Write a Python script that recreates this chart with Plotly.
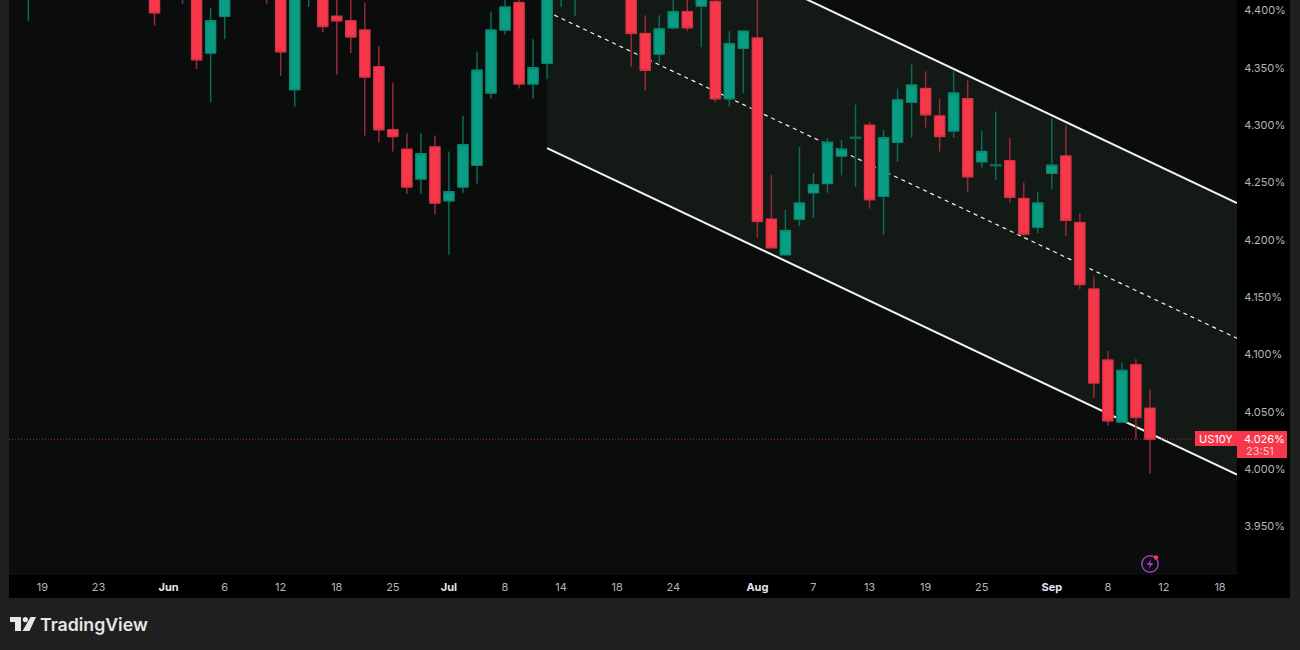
import plotly.graph_objects as go

# Bar number counted in trading days from the first candle in view
bar = [0, 9, 11, 12, 13, 14, 17, 18, 19, 20, 21, 22, 23, 24, 25, 26, 27, 28, 29, 30, 31, 32, 33, 34, 35, 36, 37, 38, 39,
       43, 44, 45, 46, 47, 48, 49, 50, 51, 52, 53, 54, 55, 56, 57, 58, 59, 60, 61, 62, 63, 64, 65, 66, 67, 68, 69, 70,
       71, 72, 73, 74, 75, 76, 77, 78, 79, 80]
opens = [4.413, 4.422, 4.418, 4.426, 4.363, 4.395, 4.430, 4.426, 4.331, 4.412, 4.422, 4.395, 4.391, 4.383, 4.351, 4.296,
         4.279, 4.253, 4.281, 4.234, 4.246, 4.265, 4.328, 4.383, 4.407, 4.336, 4.354, 4.412, 4.418,
         4.422, 4.380, 4.362, 4.385, 4.399, 4.404, 4.408, 4.323, 4.367, 4.376, 4.218, 4.187, 4.218, 4.241, 4.249, 4.273,
         4.2885, 4.300, 4.238, 4.285, 4.320, 4.332, 4.308, 4.295, 4.323, 4.268, 4.2645, 4.269,
         4.236, 4.211, 4.258, 4.273, 4.215, 4.157, 4.095, 4.041, 4.091, 4.053]
highs = [4.444, 4.430, 4.440, 4.435, 4.402, 4.428, 4.440, 4.435, 4.430, 4.440, 4.430, 4.418, 4.416, 4.407, 4.369, 4.337,
         4.293, 4.293, 4.291, 4.277, 4.308, 4.364, 4.399, 4.413, 4.412, 4.375, 4.430, 4.435, 4.440,
         4.435, 4.396, 4.396, 4.415, 4.420, 4.430, 4.412, 4.382, 4.382, 4.420, 4.257, 4.226, 4.281, 4.258, 4.289, 4.287,
         4.318, 4.303, 4.296, 4.332, 4.353, 4.347, 4.323, 4.347, 4.339, 4.295, 4.312, 4.289,
         4.250, 4.242, 4.306, 4.300, 4.223, 4.168, 4.103, 4.093, 4.096, 4.070]
lows = [4.391, 4.387, 4.406, 4.349, 4.320, 4.375, 4.406, 4.343, 4.316, 4.403, 4.381, 4.344, 4.363, 4.291, 4.285, 4.277,
        4.240, 4.240, 4.222, 4.187, 4.241, 4.249, 4.323, 4.379, 4.332, 4.323, 4.340, 4.403, 4.395,
        4.351, 4.330, 4.354, 4.384, 4.382, 4.368, 4.320, 4.316, 4.328, 4.202, 4.193, 4.186, 4.212, 4.219, 4.241, 4.256,
        4.246, 4.227, 4.204, 4.268, 4.289, 4.298, 4.277, 4.289, 4.242, 4.263, 4.252, 4.232,
        4.203, 4.206, 4.244, 4.203, 4.157, 4.062, 4.038, 4.041, 4.026, 3.996]
closes = [4.435, 4.398, 4.431, 4.357, 4.391, 4.419, 4.415, 4.364, 4.418, 4.430, 4.386, 4.391, 4.377, 4.342, 4.296, 4.290,
          4.246, 4.275, 4.232, 4.242, 4.283, 4.348, 4.383, 4.403, 4.336, 4.350, 4.422, 4.425, 4.432,
          4.380, 4.348, 4.384, 4.399, 4.385, 4.420, 4.323, 4.371, 4.382, 4.216, 4.193, 4.208, 4.232, 4.248, 4.285, 4.279,
          4.2895, 4.235, 4.289, 4.322, 4.335, 4.309, 4.290, 4.328, 4.255, 4.277, 4.2655, 4.237,
          4.205, 4.232, 4.265, 4.217, 4.161, 4.075, 4.042, 4.086, 4.045, 4.026]

x_tick_bars = [1, 5, 10, 14, 18, 22, 26, 30, 34, 38, 42, 46, 52, 56, 60, 64, 68, 73, 77, 81, 85]
x_tick_labels = ["19", "23", "Jun", "6", "12", "18", "25", "Jul", "8", "14", "18", "24", "Aug", "7", "13", "19", "25",
                 "Sep", "8", "12", "18"]
y_ticks = [3.95, 4.00, 4.05, 4.10, 4.15, 4.20, 4.25, 4.30, 4.35, 4.40]
y_tick_labels = ["3.950%", "4.000%", "4.050%", "4.100%", "4.150%", "4.200%", "4.250%", "4.300%", "4.350%", "4.400%"]

last_price = 4.026
symbol = "US10Y"
last_label = "4.026%"
countdown = "23:51"

channel_x = [37.0, 86.21]
channel_upper = [4.517, 4.232]
channel_mid = [4.399, 4.114]
channel_lower = [4.280, 3.995]

X_RANGE = [-1.38, 86.21]
Y_RANGE = [3.9075, 4.4092]
W, H = 1300, 650
RED, GREEN = "#f7374a", "#099e83"
RED_EDGE, GREEN_EDGE = "#dc3444", "#0a8a73"
RED_WICK, GREEN_WICK = "#96293a", "#0b6a58"
FONT = "Inter, Roboto, sans-serif"


def px(x):
    return x / W


def py(y):
    return 1 - y / H


def paper_rect(x0, y0, x1, y1, color, layer="below"):
    return dict(type="rect", xref="paper", yref="paper", x0=px(x0), x1=px(x1), y0=py(y0), y1=py(y1),
                fillcolor=color, line_width=0, layer=layer)


def paper_path(points, color, close=True):
    d = "M " + " L ".join(f"{px(a):.5f},{py(b):.5f}" for a, b in points) + (" Z" if close else "")
    return dict(type="path", xref="paper", yref="paper", path=d, fillcolor=color if close else None,
                line=dict(color=color, width=0 if close else 1.3), layer="above")


def paper_circle(cx, cy, r, fill=None, stroke=None, width=0):
    return dict(type="circle", xref="paper", yref="paper", x0=px(cx - r), x1=px(cx + r), y0=py(cy + r), y1=py(cy - r),
                fillcolor=fill or "rgba(0,0,0,0)", line=dict(color=stroke or "rgba(0,0,0,0)", width=width),
                layer="above")


def channel_line(ys, dash, width):
    return dict(type="line", xref="x", yref="y", x0=channel_x[0], x1=channel_x[1], y0=ys[0], y1=ys[1],
                line=dict(color="#f4f4f4", width=width, dash=dash), layer="below")


# Wicks: the full candles, in the dim wick colour
fig = go.Figure(go.Candlestick(
    x=bar, open=opens, high=highs, low=lows, close=closes, whiskerwidth=0,
    increasing=dict(fillcolor=GREEN, line=dict(color=GREEN_WICK, width=1.5)),
    decreasing=dict(fillcolor=RED, line=dict(color=RED_WICK, width=1.5)),
    hoverinfo="skip", showlegend=False))

# Bodies on top, without wicks, so their edges stay bright (dojis keep their thin dim line)
real = [i for i in range(len(bar)) if abs(opens[i] - closes[i]) > 0.002]
fig.add_trace(go.Candlestick(
    x=[bar[i] for i in real],
    open=[opens[i] for i in real],
    close=[closes[i] for i in real],
    high=[max(opens[i], closes[i]) for i in real],
    low=[min(opens[i], closes[i]) for i in real],
    whiskerwidth=0,
    increasing=dict(fillcolor=GREEN, line=dict(color=GREEN_EDGE, width=1)),
    decreasing=dict(fillcolor=RED, line=dict(color=RED_EDGE, width=1)),
    hoverinfo="skip", showlegend=False))

shapes = [
    paper_rect(1237, 0, 1290, 598, "#000000"),
    paper_rect(9, 575, 1290, 598, "#000000"),
    dict(type="path", xref="x", yref="y", layer="below", fillcolor="#131914", line_width=0,
         path=f"M {channel_x[0]},{channel_upper[0]} L {channel_x[1]},{channel_upper[1]} "
              f"L {channel_x[1]},{channel_lower[1]} L {channel_x[0]},{channel_lower[0]} Z"),
    channel_line(channel_upper, "solid", 2),
    channel_line(channel_lower, "solid", 2),
    channel_line(channel_mid, "4px,4px", 1.2),
    dict(type="line", xref="x", yref="y", x0=X_RANGE[0], x1=83.2, y0=last_price, y1=last_price,
         line=dict(color="#a82a38", width=1, dash="1px,2px"), layer="above"),
    paper_rect(1195, 431, 1237, 446, RED, "above"),
    paper_rect(1237, 431, 1287, 458, RED, "above"),
    # TradingView mark
    paper_path([(10, 617), (21, 617), (21, 631), (15, 631), (15, 622), (10, 622)], "#e6e6e6"),
    paper_circle(25.3, 619.6, 2.6, fill="#e6e6e6"),
    paper_path([(30.5, 617), (36, 617), (29.5, 631), (22.5, 631)], "#e6e6e6"),
    # Lightning badge
    paper_circle(1150, 564, 8.2, stroke="#a23bc4", width=1.5),
    paper_path([(1152, 558.5), (1146.5, 565), (1150, 565), (1148, 569.5), (1153.5, 563), (1150, 563)], "#a23bc4"),
    paper_circle(1156, 557.5, 2.2, fill="#f7374a"),
]


def label(x, y, text, color, size, anchor="center", weight=None):
    return dict(xref="paper", yref="paper", x=px(x), y=py(y), text=text, showarrow=False, xanchor=anchor,
                yanchor="middle", font=dict(family=FONT, size=size, color=color, weight=weight))


annotations = [
    label(1216, 438.8, symbol, "#ffffff", 11),
    label(1264, 438.8, last_label, "#ffffff", 11),
    label(1259.5, 451, countdown, "#fbc4ca", 11),
    label(38, 624, "TradingView", "#e6e6e6", 17.7, "left", 600),
]

x_ticktext = [f"<b><span style='color:#e3e5ea'>{t}</span></b>" if t.isalpha() else t for t in x_tick_labels]

fig.update_layout(
    width=W, height=H, margin=dict(l=0, r=0, t=0, b=0), autosize=False, boxgap=0.28, boxgroupgap=0, boxmode="overlay",
    paper_bgcolor="#1f1f1f", plot_bgcolor="#0a0d0b", showlegend=False, dragmode=False,
    font=dict(family=FONT, color="#b2b5be", size=11),
    shapes=shapes, annotations=annotations,
    xaxis=dict(domain=[px(9), px(1237)], range=X_RANGE, rangeslider=dict(visible=False), showgrid=False,
               zeroline=False, showline=False, tickmode="array", tickvals=x_tick_bars, ticktext=x_ticktext,
               ticks="outside", ticklen=2, tickcolor="rgba(0,0,0,0)", tickfont=dict(size=11, color="#b2b5be")),
    yaxis=dict(domain=[py(575), 1], range=Y_RANGE, side="right", showgrid=False, zeroline=False, showline=False,
               tickmode="array", tickvals=y_ticks, ticktext=y_tick_labels,
               ticks="outside", ticklen=4, tickcolor="rgba(0,0,0,0)", tickfont=dict(size=11, color="#b2b5be")),
)

fig.write_html("out.html", config=dict(displayModeBar=False),
               post_script="document.body.style.margin='0';document.body.style.background='#1f1f1f';")
